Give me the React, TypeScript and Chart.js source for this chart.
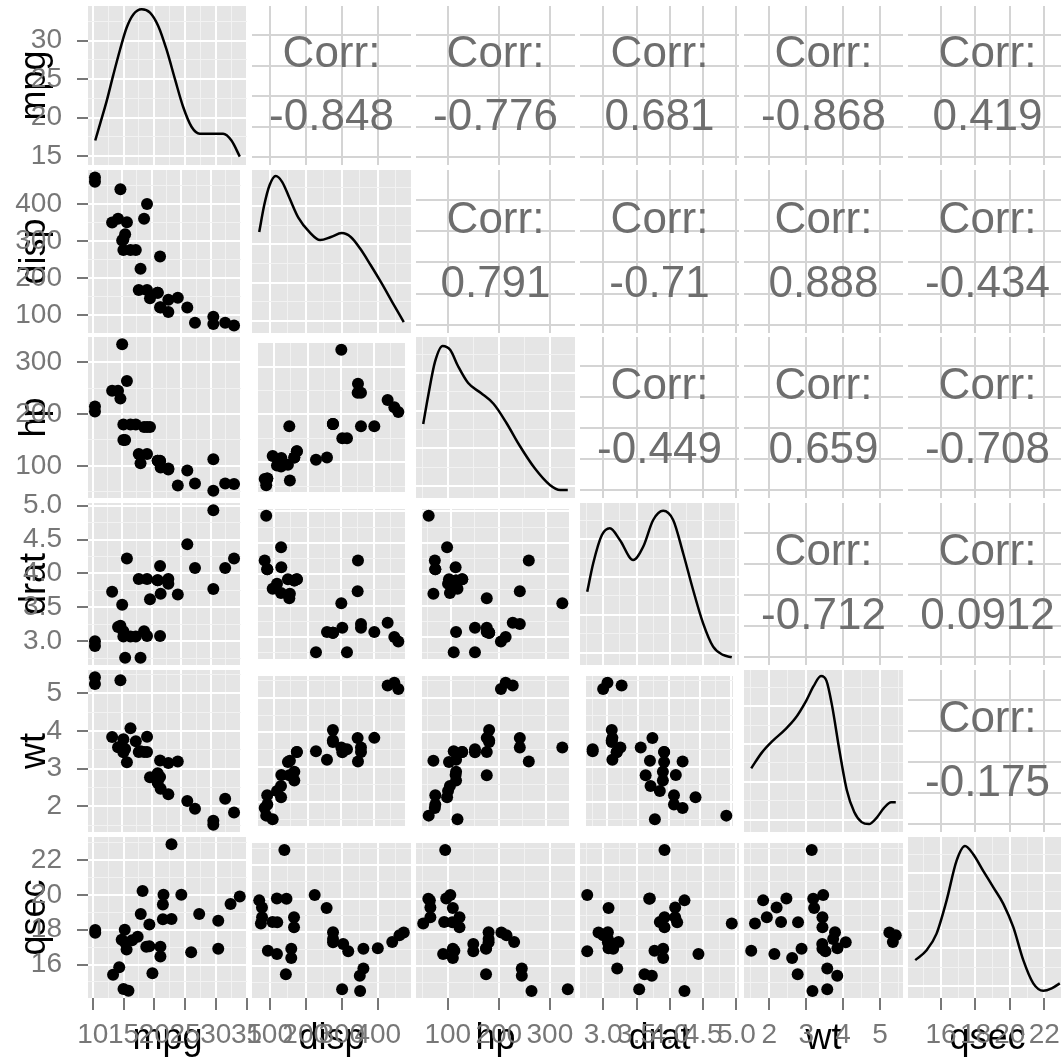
import React, { useEffect, useRef } from "react";
import { Chart, registerables } from "chart.js";
Chart.register(...registerables);

// ---------- data (mtcars) ----------
const VARS = ["mpg", "disp", "hp", "drat", "wt", "qsec"];
const mpg = [21.0, 21.0, 22.8, 21.4, 18.7, 18.1, 14.3, 24.4, 22.8, 19.2, 17.8, 16.4, 17.3, 15.2, 10.4, 10.4, 14.7, 32.4, 30.4, 33.9, 21.5, 15.5, 15.2, 13.3, 19.2, 27.3, 26.0, 30.4, 15.8, 19.7, 15.0, 21.4];
const disp = [160, 160, 108, 258, 360, 225, 360, 146.7, 140.8, 167.6, 167.6, 275.8, 275.8, 275.8, 472, 460, 440, 78.7, 75.7, 71.1, 120.1, 318, 304, 350, 400, 79, 120.3, 95.1, 351, 145, 301, 121];
const hp = [110, 110, 93, 110, 175, 105, 245, 62, 95, 123, 123, 180, 180, 180, 205, 215, 230, 66, 52, 65, 97, 150, 150, 245, 175, 66, 91, 113, 264, 175, 335, 109];
const drat = [3.9, 3.9, 3.85, 3.08, 3.15, 2.76, 3.21, 3.69, 3.92, 3.92, 3.92, 3.07, 3.07, 3.07, 2.93, 3.0, 3.23, 4.08, 4.93, 4.22, 3.7, 2.76, 3.15, 3.73, 3.08, 4.08, 4.43, 3.77, 4.22, 3.62, 3.54, 4.11];
const wt = [2.62, 2.875, 2.32, 3.215, 3.44, 3.46, 3.57, 3.19, 3.15, 3.44, 3.44, 4.07, 3.73, 3.78, 5.25, 5.424, 5.345, 2.2, 1.615, 1.835, 2.465, 3.52, 3.435, 3.84, 3.845, 1.935, 2.14, 1.513, 3.17, 2.77, 3.57, 2.78];
const qsec = [16.46, 17.02, 18.61, 19.44, 17.02, 20.22, 15.84, 20.0, 22.9, 18.3, 18.9, 17.4, 17.6, 18.0, 17.98, 17.82, 17.42, 19.47, 18.52, 19.9, 20.01, 16.87, 17.3, 15.41, 17.05, 18.9, 16.7, 16.9, 14.5, 15.5, 14.6, 18.6];

// ---------- ticks ----------
const mpgTicks = [10, 15, 20, 25, 30, 35];
const mpgTickLabels = ["10", "15", "20", "25", "30", "35"];
const dispTicks = [100, 200, 300, 400];
const dispTickLabels = ["100", "200", "300", "400"];
const hpTicks = [100, 200, 300];
const hpTickLabels = ["100", "200", "300"];
const dratTicks = [3.0, 3.5, 4.0, 4.5, 5.0];
const dratTickLabels = ["3.0", "3.5", "4.0", "4.5", "5.0"];
const wtTicks = [2, 3, 4, 5];
const wtTickLabels = ["2", "3", "4", "5"];
const qsecTicks = [16, 18, 20, 22];
const qsecTickLabels = ["16", "18", "20", "22"];
// first diagonal panel's row axis
const mpgDiagTicks = [15, 20, 25, 30];
const mpgDiagTickLabels = ["15", "20", "25", "30"];
const mpgDiagRange = [13.83, 34.51];

// ---------- density curves (x in data units, y as share of panel height) ----------
const mpgDensX = [10.4, 11.2, 12.3, 13.34, 14.43, 15.5, 16.59, 17.96, 19.3, 20.66, 22.0, 23.4, 24.7, 26.08, 27.4, 29.6, 31.2, 32.55, 33.9];
const mpgDensY = [0.154, 0.26, 0.408, 0.567, 0.725, 0.863, 0.947, 0.979, 0.958, 0.873, 0.725, 0.535, 0.365, 0.239, 0.197, 0.197, 0.197, 0.154, 0.053];
const dispDensX = [71.1, 85, 100, 117, 135, 155, 180, 210, 240, 270, 300, 325, 350, 380, 410, 440, 472];
const dispDensY = [0.62, 0.785, 0.908, 0.963, 0.926, 0.828, 0.706, 0.62, 0.57, 0.589, 0.613, 0.589, 0.521, 0.417, 0.307, 0.19, 0.067];
const hpDensX = [52, 62, 75, 90, 105, 120, 140, 165, 190, 215, 240, 270, 300, 320, 335];
const hpDensY = [0.46, 0.64, 0.845, 0.944, 0.919, 0.82, 0.714, 0.652, 0.584, 0.466, 0.329, 0.186, 0.081, 0.05, 0.05];
const dratDensX = [2.76, 2.85, 2.98, 3.1, 3.25, 3.45, 3.6, 3.75, 3.9, 4.05, 4.2, 4.35, 4.5, 4.65, 4.8, 4.93];
const dratDensY = [0.452, 0.628, 0.802, 0.844, 0.772, 0.648, 0.73, 0.895, 0.952, 0.895, 0.69, 0.463, 0.257, 0.113, 0.062, 0.048];
const wtDensX = [1.513, 1.8, 2.1, 2.4, 2.7, 3.0, 3.2, 3.4, 3.55, 3.7, 3.9, 4.1, 4.3, 4.5, 4.7, 4.9, 5.1, 5.3, 5.424];
const wtDensY = [0.393, 0.49, 0.564, 0.626, 0.7, 0.81, 0.9, 0.963, 0.933, 0.78, 0.503, 0.258, 0.123, 0.061, 0.049, 0.086, 0.147, 0.184, 0.184];
const qsecDensX = [14.5, 15.16, 15.74, 16.32, 16.9, 17.39, 17.87, 18.45, 19.04, 19.62, 20.2, 20.78, 21.36, 21.94, 22.43, 22.9];
const qsecDensY = [0.235, 0.296, 0.4, 0.605, 0.852, 0.944, 0.893, 0.79, 0.687, 0.585, 0.44, 0.235, 0.091, 0.045, 0.06, 0.091];

// ---------- correlations (upper triangle, row by row) ----------
const corrMpg = ["-0.848", "-0.776", "0.681", "-0.868", "0.419"];
const corrDisp = ["0.791", "-0.71", "0.888", "-0.434"];
const corrHp = ["-0.449", "0.659", "-0.708"];
const corrDrat = ["-0.712", "0.0912"];
const corrWt = ["-0.175"];

const SERIES = [mpg, disp, hp, drat, wt, qsec];
const TICKS = [mpgTicks, dispTicks, hpTicks, dratTicks, wtTicks, qsecTicks];
const TICK_LABELS = [mpgTickLabels, dispTickLabels, hpTickLabels, dratTickLabels, wtTickLabels, qsecTickLabels];
const DENS_X = [mpgDensX, dispDensX, hpDensX, dratDensX, wtDensX, qsecDensX];
const DENS_Y = [mpgDensY, dispDensY, hpDensY, dratDensY, wtDensY, qsecDensY];
const CORR = [corrMpg, corrDisp, corrHp, corrDrat, corrWt];

// ---------- layout / style ----------
const PAGE = 1061;
const COL_L = [88, 252, 416, 580, 744, 908];
const PANEL_W = 159;
const ROW_T = [6, 170, 337, 503, 670, 837];
const ROW_B = [165, 333, 498, 665, 832, 998];
const Y_AXIS_W = 88;
const EXT = 30;
const FONT = '"Liberation Sans", Arial, Helvetica, sans-serif';
const PANEL_BG = "#e5e5e5";
const MAJOR = "#ffffff";
const MINOR = "#f2f2f2";
const UPPER_GRID = "#d4d4d4";
const TICK_COLOR = "#777777";
const CORR_COLOR = "#6e6e6e";
const UPPER_Y = [-0.26, 4.95];
const UPPER_Y_TICKS = [0, 1, 2, 3, 4];
const CORR_LABEL_Y = 3.34;
const CORR_VALUE_Y = 1.28;
const DIAG_MAJ = [0.075, 0.309, 0.543, 0.777];
const DIAG_MIN = [0.192, 0.426, 0.66, 0.894];

function rangeOf(v: number[]): [number, number] {
  const lo = Math.min(...v), hi = Math.max(...v), d = (hi - lo) * 0.05;
  return [lo - d, hi + d];
}
function minorsOf(maj: number[], lo: number, hi: number) {
  const step = maj[1] - maj[0];
  const ext = [maj[0] - step, ...maj, maj[maj.length - 1] + step];
  const out: number[] = [];
  for (let i = 0; i < ext.length - 1; i++) {
    const m = (ext[i] + ext[i + 1]) / 2;
    if (m >= lo && m <= hi) out.push(m);
  }
  return out;
}

const bgPlugin = {
  id: "panelBg",
  beforeDraw(chart: any, _a: any, opts: any) {
    const a = chart.chartArea;
    const ctx = chart.ctx;
    ctx.save();
    ctx.fillStyle = opts.color || "#fff";
    ctx.fillRect(a.left, a.top, a.right - a.left, a.bottom - a.top);
    ctx.restore();
  },
};
const corrPlugin = {
  id: "corrText",
  afterDraw(chart: any, _a: any, opts: any) {
    if (!opts || !opts.text) return;
    const ctx = chart.ctx;
    const a = chart.chartArea;
    const ys = chart.scales.y;
    const cx = (a.left + a.right) / 2;
    ctx.save();
    ctx.font = `44px ${FONT}`;
    ctx.fillStyle = CORR_COLOR;
    ctx.textAlign = "center";
    ctx.textBaseline = "middle";
    ctx.fillText("Corr:", cx, ys.getPixelForValue(CORR_LABEL_Y));
    ctx.fillText(opts.text, cx, ys.getPixelForValue(CORR_VALUE_Y));
    ctx.restore();
  },
};

type Geo = { left: number; top: number; w: number; h: number; pad: any; xAxisH: number; r: number; c: number };

function geometry(r: number, c: number): Geo {
  const L = COL_L[c], R = COL_L[c] + PANEL_W, T = ROW_T[r], B = ROW_B[r];
  const exL = r === 5 && c > 0 ? EXT : 0;
  const exR = r === 5 ? EXT : 0;
  const eyT = c === 0 ? Math.min(20, T) : 0;
  const eyB = c === 0 && r < 5 ? 20 : 0;
  const left = (c === 0 ? 0 : L) - exL;
  const right = R + exR;
  const top = T - eyT;
  const bottom = r === 5 ? PAGE : B + eyB;
  return { left, top, w: right - left, h: bottom - top, pad: { left: exL, right: exR, top: eyT, bottom: eyB }, xAxisH: PAGE - B, r, c };
}

function hiddenAxis(pos: "bottom" | "left", lo: number, hi: number, vals: number[], color: string, width: number, show = true) {
  const horiz = pos === "bottom";
  return {
    type: "linear", position: pos, min: lo, max: hi, z: -2,
    afterBuildTicks: (s: any) => { s.ticks = vals.map((v) => ({ value: v })); },
    afterFit: (s: any) => {
      if (horiz) { s.height = 0; s.paddingLeft = 0; s.paddingRight = 0; }
      else { s.width = 0; s.paddingTop = 0; s.paddingBottom = 0; }
    },
    grid: { display: show, color, lineWidth: width, drawTicks: false },
    border: { display: false },
    ticks: { display: false, callback: () => "" },
    title: { display: false },
  };
}

function makeConfig(g: Geo) {
  const { r, c } = g;
  const showX = r === 5, showY = c === 0;
  const isDiag = r === c, isUpper = c > r;
  const [xlo, xhi] = rangeOf(SERIES[c]);
  const xMaj = TICKS[c];
  const scales: any = {};
  scales.x = {
    type: "linear", position: "bottom", min: xlo, max: xhi, z: -1,
    afterBuildTicks: (s: any) => { s.ticks = xMaj.map((v) => ({ value: v })); },
    afterFit: (s: any) => { s.height = showX ? g.xAxisH : 0; s.paddingLeft = 0; s.paddingRight = 0; },
    grid: { color: isUpper ? UPPER_GRID : MAJOR, lineWidth: 2, drawTicks: showX, tickLength: 12, tickColor: TICK_COLOR, tickWidth: 2 },
    border: { display: false },
    ticks: {
      display: showX, autoSkip: false, maxRotation: 0, minRotation: 0, padding: 8, color: TICK_COLOR,
      font: { family: FONT, size: 28 },
      callback: (v: number) => TICK_LABELS[c][xMaj.indexOf(v)] ?? "",
    },
    title: { display: showX, text: VARS[c], color: "#000", font: { family: FONT, size: 36 }, padding: { top: 0, bottom: 0 } },
  };
  if (!isUpper) scales.xm = hiddenAxis("bottom", xlo, xhi, minorsOf(xMaj, xlo, xhi), MINOR, 1);

  let ylo: number, yhi: number, yMaj: number[], yLab: string[] = [], yMin: number[] = [];
  if (isUpper) { ylo = UPPER_Y[0]; yhi = UPPER_Y[1]; yMaj = UPPER_Y_TICKS; }
  else if (isDiag && r === 0) { ylo = mpgDiagRange[0]; yhi = mpgDiagRange[1]; yMaj = mpgDiagTicks; yLab = mpgDiagTickLabels; yMin = minorsOf(yMaj, ylo, yhi); }
  else if (isDiag) { ylo = 0; yhi = 1; yMaj = DIAG_MAJ; yMin = DIAG_MIN; }
  else { [ylo, yhi] = rangeOf(SERIES[r]); yMaj = TICKS[r]; yLab = TICK_LABELS[r]; yMin = minorsOf(yMaj, ylo, yhi); }

  scales.y = {
    type: "linear", position: "left", min: ylo, max: yhi, z: -1,
    afterBuildTicks: (s: any) => { s.ticks = yMaj.map((v) => ({ value: v })); },
    afterFit: (s: any) => { s.width = showY ? Y_AXIS_W : 0; s.paddingTop = 0; s.paddingBottom = 0; },
    grid: { color: isUpper ? UPPER_GRID : MAJOR, lineWidth: 2, drawTicks: showY, tickLength: 11, tickColor: TICK_COLOR, tickWidth: 2 },
    border: { display: false },
    ticks: {
      display: showY, autoSkip: false, padding: 15, color: TICK_COLOR,
      font: { family: FONT, size: 28 },
      callback: (v: number) => yLab[yMaj.indexOf(v)] ?? "",
    },
    title: { display: showY, text: VARS[r], color: "#000", font: { family: FONT, size: 36 }, padding: { top: 13, bottom: 0 } },
  };
  if (!isUpper) scales.ym = hiddenAxis("left", ylo, yhi, yMin, MINOR, 1);
  if (isDiag && r === 0) scales.yd = hiddenAxis("left", 0, 1, [], MINOR, 1, false);

  const datasets: any[] = [];
  if (isDiag) {
    datasets.push({
      data: DENS_X[c].map((x, i) => ({ x, y: DENS_Y[c][i] })),
      showLine: true, borderColor: "#000", borderWidth: 2.5, pointRadius: 0,
      cubicInterpolationMode: "monotone", fill: false,
      yAxisID: r === 0 ? "yd" : "y",
    });
  } else if (!isUpper) {
    datasets.push({
      data: SERIES[c].map((x, i) => ({ x, y: SERIES[r][i] })),
      showLine: false, pointRadius: 6, pointBackgroundColor: "#000", pointBorderWidth: 0, backgroundColor: "#000",
    });
  }

  return {
    type: "scatter",
    data: { datasets },
    plugins: [bgPlugin, corrPlugin],
    options: {
      responsive: false, animation: false, events: [],
      layout: { padding: g.pad },
      plugins: {
        legend: { display: false }, tooltip: { enabled: false },
        panelBg: { color: isUpper ? "#ffffff" : PANEL_BG },
        corrText: { text: isUpper ? CORR[r][c - r - 1] : "" },
      },
      scales,
    },
  };
}

const GEOS: Geo[] = [];
for (let r = 0; r < 6; r++) for (let c = 0; c < 6; c++) GEOS.push(geometry(r, c));

export default function App() {
  const refs = useRef<(HTMLCanvasElement | null)[]>([]);
  useEffect(() => {
    const charts = GEOS.map((g, i) => new Chart(refs.current[i] as HTMLCanvasElement, makeConfig(g) as any));
    return () => charts.forEach((ch) => ch.destroy());
  }, []);
  return (
    <div style={{ position: "fixed", left: 0, top: 0, width: PAGE, height: PAGE, overflow: "hidden", background: "#fff" }}>
      {GEOS.map((g, i) => (
        <canvas
          key={i}
          ref={(el) => { refs.current[i] = el; }}
          width={g.w}
          height={g.h}
          style={{ position: "absolute", left: g.left, top: g.top, width: g.w, height: g.h }}
        />
      ))}
    </div>
  );
}
